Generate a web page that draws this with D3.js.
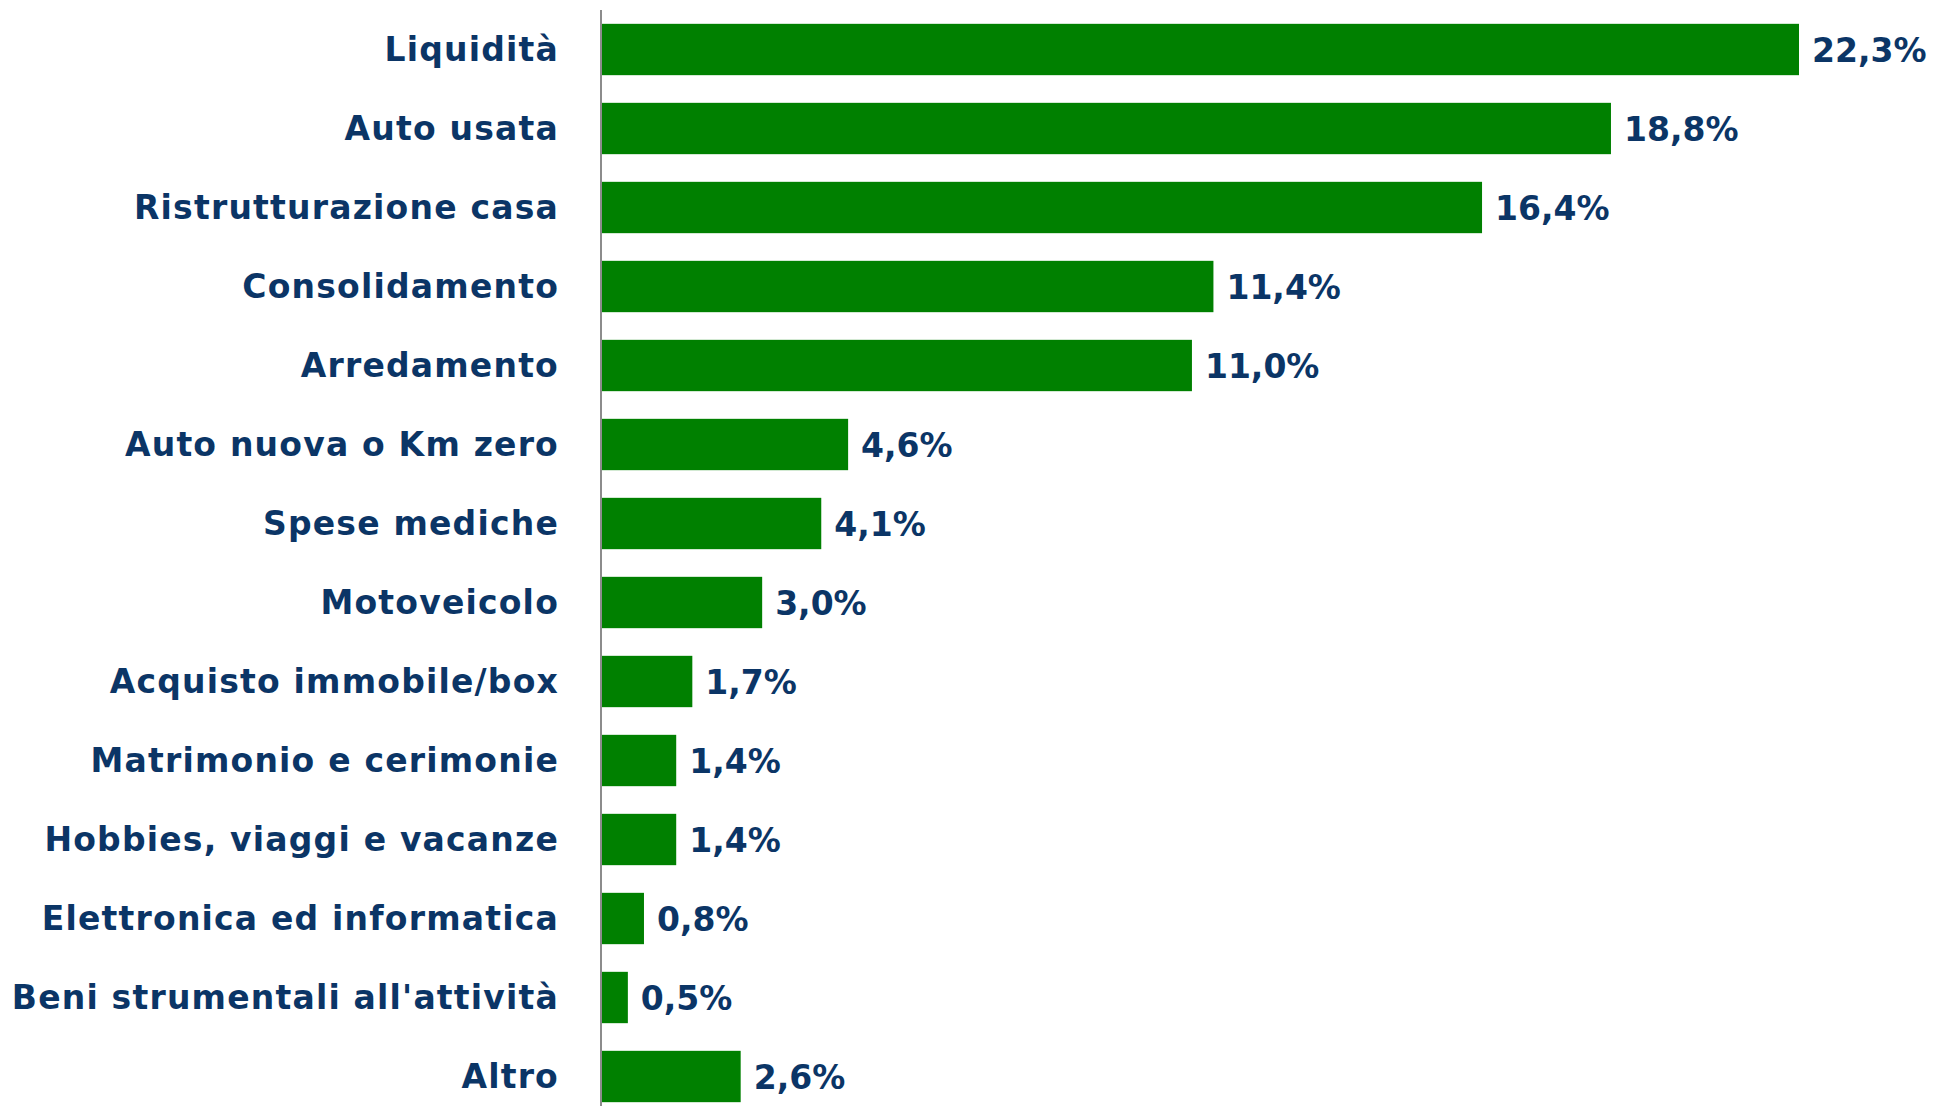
<!DOCTYPE html>
<html>
<head>
<meta charset="utf-8">
<script src="https://cdn.jsdelivr.net/npm/d3@7"></script>
<style>
  html, body { margin: 0; padding: 0; background: #ffffff; }
  svg { display: block; }
</style>
</head>
<body>
<svg id="chart" width="1933" height="1106"></svg>
<script>
const categories = [
  "Liquidità",
  "Auto usata",
  "Ristrutturazione casa",
  "Consolidamento",
  "Arredamento",
  "Auto nuova o Km zero",
  "Spese mediche",
  "Motoveicolo",
  "Acquisto immobile/box",
  "Matrimonio e cerimonie",
  "Hobbies, viaggi e vacanze",
  "Elettronica ed informatica",
  "Beni strumentali all'attività",
  "Altro"
];
const values = [22.3, 18.8, 16.4, 11.4, 11.0, 4.6, 4.1, 3.0, 1.7, 1.4, 1.4, 0.8, 0.5, 2.6];

const W = 1933, H = 1106;
const textColor = "#0b3566";
const barColor = "#008000";
const fontFamily = "'DejaVu Sans', sans-serif";

const svg = d3.select("#chart");

const x = d3.scaleLinear().domain([0, 22.3]).range([601, 1799]);
const y = d3.scaleBand().domain(categories).range([10, 1116]).paddingInner(0.35).paddingOuter(0.175);

const fmt = v => d3.format(".1f")(v).replace(".", ",") + "%";

// bars
svg.append("g").selectAll("rect")
  .data(values)
  .join("rect")
  .attr("x", x(0))
  .attr("y", (d, i) => y(categories[i]))
  .attr("width", d => x(d) - x(0))
  .attr("height", y.bandwidth())
  .attr("fill", barColor);

// axis (category axis line, no ticks)
const yAxis = d3.axisLeft(y).tickSize(0).tickPadding(42);
const ga = svg.append("g").attr("transform", `translate(${x(0)},0)`).call(yAxis);
ga.select(".domain").attr("stroke", "#8c8c8c").attr("stroke-width", 2).attr("d", `M0,10V${H}`);
ga.selectAll(".tick text")
  .attr("fill", textColor)
  .attr("font-family", fontFamily)
  .attr("font-weight", "bold")
  .attr("font-size", 33)
  .attr("letter-spacing", 1.2)
  .attr("dy", "0.36em");

// value labels
svg.append("g").selectAll("text")
  .data(values)
  .join("text")
  .attr("x", d => x(d) + 13)
  .attr("y", (d, i) => y(categories[i]) + y.bandwidth() / 2)
  .attr("dy", "0.38em")
  .attr("fill", textColor)
  .attr("font-family", fontFamily)
  .attr("font-weight", "bold")
  .attr("font-size", 33)
  .text(d => fmt(d));
</script>
</body>
</html>
